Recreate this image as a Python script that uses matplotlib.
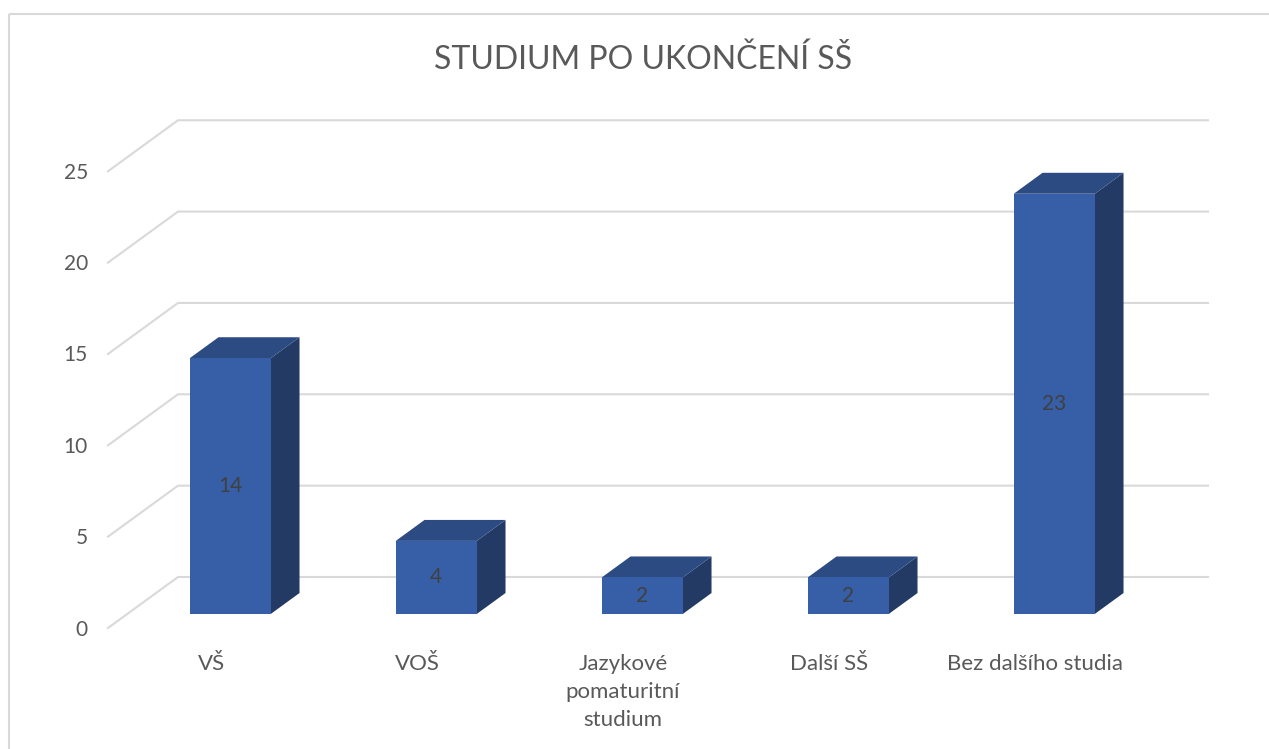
import matplotlib
matplotlib.use("Agg")
import matplotlib.pyplot as plt
from matplotlib.patches import Polygon, Rectangle

# data
categories = ["VŠ", "VOŠ", "Jazykové\npomaturitní\nstudium", "Další SŠ", "Bez dalšího studia"]
values = [14, 4, 2, 2, 23]
yticks = [0, 5, 10, 15, 20, 25]
title = "STUDIUM PO UKONČENÍ SŠ"

# pseudo-3d projection (pixel space)
X0, Y0 = 108, 628      # front-left corner of the floor
DX, DY = 70, 51        # depth offset of the back wall
K = 18.27              # px per unit
CAT_W = 206
BAR_HALF = 40.5
D0, D1 = 0.275, 0.686  # bar depth range

FRONT = "#365FA7"
TOP = "#2C4B82"
SIDE = "#223A64"
GRID = "#d9d9d9"
TXT = "#595959"

plt.rcParams['font.family'] = ['Lato', 'DejaVu Sans']


def proj(x, v, d):
    return X0 + x + DX * d, Y0 - v * K - DY * d


fig = plt.figure(figsize=(12.69, 7.49), dpi=100)
ax = fig.add_axes([0, 0, 1, 1])
ax.set_xlim(0, 1269)
ax.set_ylim(749, 0)
ax.axis("off")

# chart border
ax.add_patch(Rectangle((8.5, 13.5), 1300, 800, fill=False, ec=GRID, lw=1.5))

ax.text(643, 60, title, ha="center", va="center", fontsize=23, color=TXT)

# gridlines: side wall + back wall
xmax = CAT_W * len(categories)
for t in yticks:
    p0 = proj(0, t, 0)
    p1 = proj(0, t, 1)
    p2 = proj(xmax, t, 1)
    ax.plot([p0[0], p1[0], p2[0]], [p0[1], p1[1], p2[1]], color=GRID, lw=1.5,
            solid_joinstyle="miter", zorder=1)
    ax.text(p0[0] - 20, p0[1] + 1.5, str(t), ha="right", va="center", fontsize=15, color=TXT)

# bars
for i, (cat, v) in enumerate(zip(categories, values)):
    xc = (i + 0.5) * CAT_W
    xl, xr = xc - BAR_HALF, xc + BAR_HALF
    side = [proj(xr, 0, D0), proj(xr, 0, D1), proj(xr, v, D1), proj(xr, v, D0)]
    top = [proj(xl, v, D0), proj(xr, v, D0), proj(xr, v, D1), proj(xl, v, D1)]
    front = [proj(xl, 0, D0), proj(xr, 0, D0), proj(xr, v, D0), proj(xl, v, D0)]
    ax.add_patch(Polygon(side, closed=True, fc=SIDE, ec="none", zorder=2))
    ax.add_patch(Polygon(top, closed=True, fc=TOP, ec="none", zorder=2))
    ax.add_patch(Polygon(front, closed=True, fc=FRONT, ec="none", zorder=3))
    lx, ly = proj(xc, v / 2, D0)
    ax.text(lx, ly, str(v), ha="center", va="center", fontsize=15, color="#404040", zorder=4)
    cx, cy = proj(xc, 0, 0)
    ax.text(cx, cy + 26, cat, ha="center", va="top", fontsize=16, color=TXT,
            linespacing=1.5)

fig.savefig("out.png", dpi=100)
